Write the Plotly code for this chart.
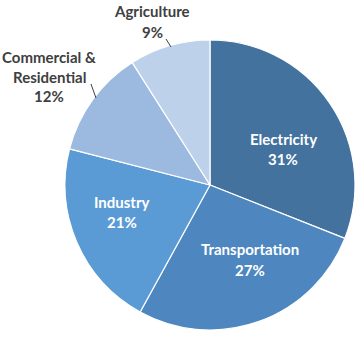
import plotly.graph_objects as go

# Emissions share by economic sector
sectors = ["Electricity", "Transportation", "Industry", "Commercial &<br>Residential", "Agriculture"]
shares = [31, 27, 21, 12, 9]
colors = ["#43729F", "#4E87BF", "#5B9BD5", "#9CB9DF", "#BED1EA"]

W, H = 363, 339

def px(x, y):
    return x / W, 1 - y / H

fig = go.Figure(go.Pie(
    labels=sectors,
    values=shares,
    sort=False,
    direction="clockwise",
    rotation=0,
    marker=dict(colors=colors, line=dict(color="white", width=1.2)),
    textinfo="none",
    hoverinfo="label+percent",
    showlegend=False,
    domain=dict(x=[65 / W, 355 / W], y=[1 - 330 / H, 1 - 40 / H]),
))

# label placement (pixel centres of each line of text) and colour
label_spots = {
    "Electricity": ((283, 139), 20, "white"),
    "Transportation": ((250, 249), 21, "white"),
    "Industry": ((122, 202), 20, "white"),
    "Commercial &<br>Residential": ((49, 57), 19.5, "#404040"),
    "Agriculture": ((152, 11), 21, "#404040"),
}

annotations = []
for name, val in zip(sectors, shares):
    (cx, cy), step, col = label_spots[name]
    lines = name.split("<br>") + [f"{val}%"]
    for i, line in enumerate(lines):
        x, y = px(cx, cy + i * step)
        annotations.append(dict(
            x=x, y=y, xref="paper", yref="paper", text=f"<b>{line}</b>",
            showarrow=False, xanchor="center", yanchor="middle",
            font=dict(family="Lato, Open Sans, sans-serif", size=15, color=col),
        ))

# leader lines for the outside labels
shapes = []
for (x0, y0, x1, y1) in [(166, 39, 171, 47), (91, 84, 96, 98)]:
    a = px(x0, y0)
    b = px(x1, y1)
    shapes.append(dict(type="line", xref="paper", yref="paper",
                       x0=a[0], y0=a[1], x1=b[0], y1=b[1],
                       line=dict(color="#404040", width=1)))

fig.update_layout(
    width=W, height=H,
    margin=dict(l=0, r=0, t=0, b=0),
    paper_bgcolor="white",
    plot_bgcolor="white",
    annotations=annotations,
    shapes=shapes,
)

fig.write_html("out.html")
